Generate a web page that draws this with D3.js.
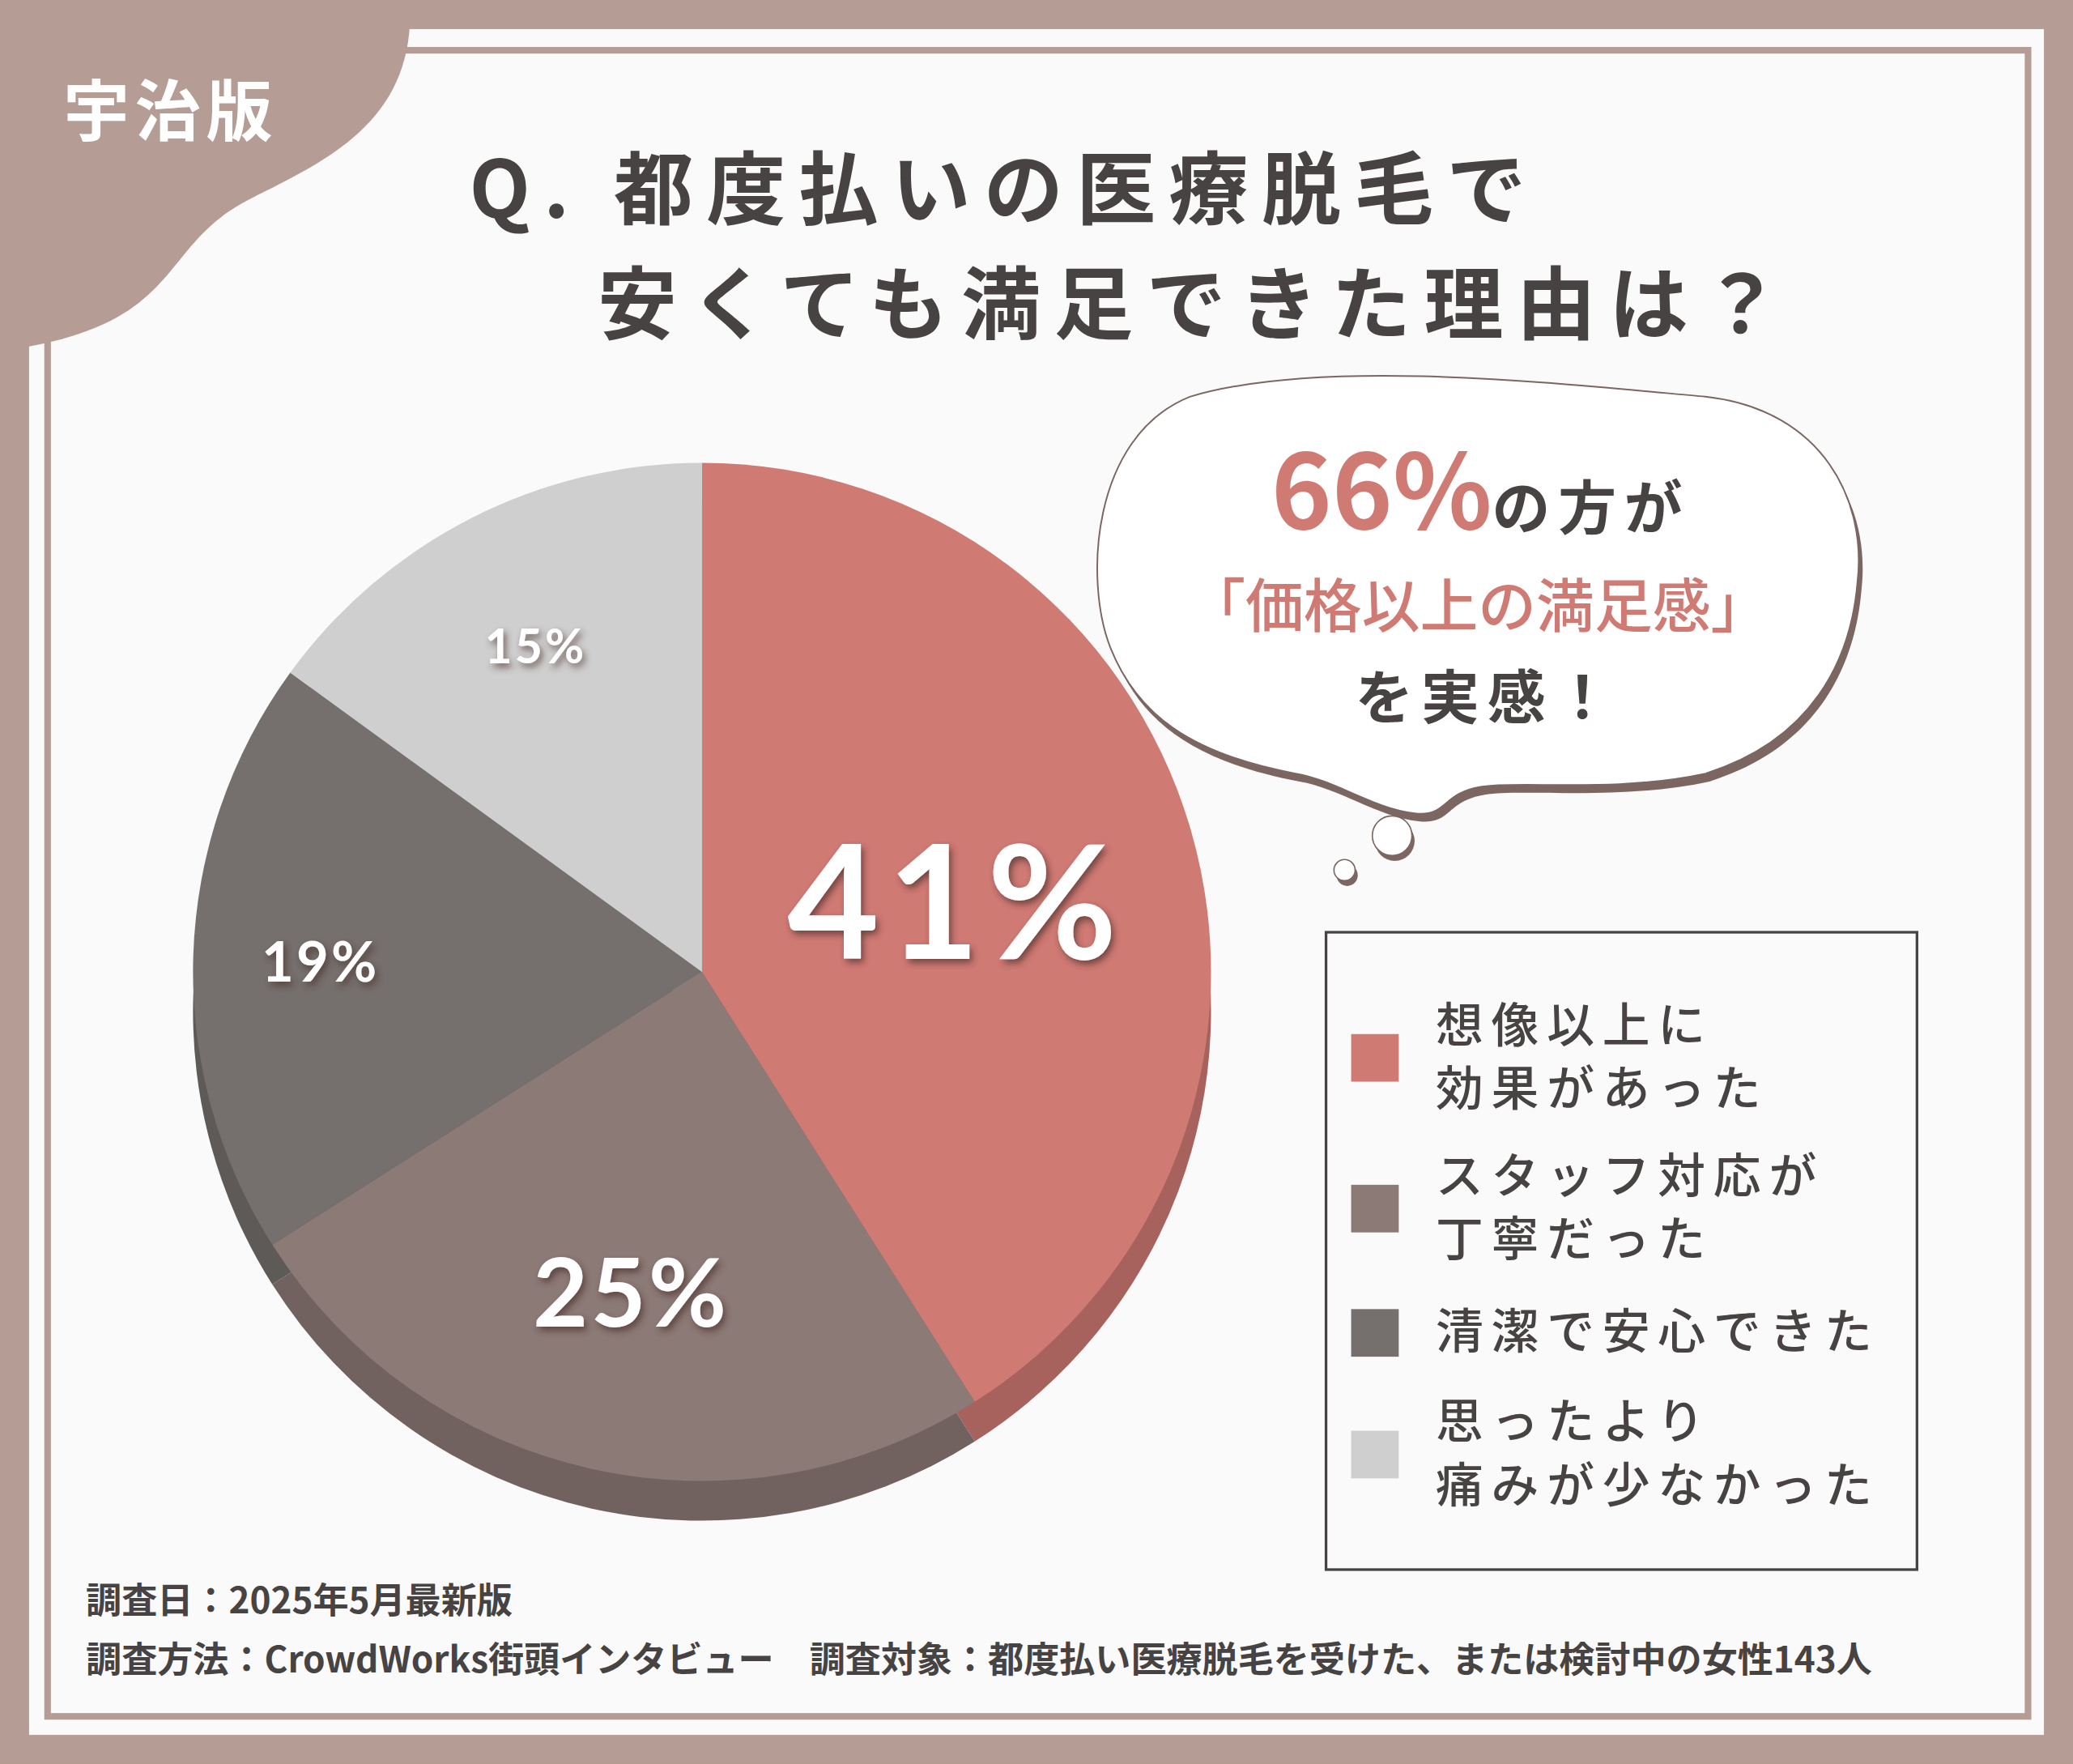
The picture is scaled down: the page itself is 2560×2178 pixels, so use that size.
<!DOCTYPE html>
<html><head><meta charset="utf-8">
<script src="https://cdn.jsdelivr.net/npm/d3@7"></script>
<style>body{margin:0;background:#b59c94}svg{display:block}</style>
</head><body>
<svg id="chart" width="2560" height="2178" viewBox="0 0 1568 1334"></svg>
<script>
// data
const categories = ["想像以上に\n効果があった", "スタッフ対応が\n丁寧だった", "清潔で安心できた", "思ったより\n痛みが少なかった"];
const values = [41, 25, 19, 15];
const colors = ["#d07a74", "#8c7a77", "#756f6d", "#cfcfcf"];
const labelSizes = [120, 72, 42, 36];
const titleLines = ["Q. 都度払いの医療脱毛で", "安くても満足できた理由は？"];
const footLines = ["調査日：2025年5月最新版", "調査方法：CrowdWorks街頭インタビュー　調査対象：都度払い医療脱毛を受けた、または検討中の女性143人"];

const FONT = "'Noto Sans CJK JP', 'Noto Sans', sans-serif";
const svg = d3.select("#chart");
const defs = svg.append("defs");

// text shadow filter
const f = defs.append("filter").attr("id", "tshadow").attr("x", "-20%").attr("y", "-20%").attr("width", "140%").attr("height", "140%");
f.append("feDropShadow").attr("dx", 2).attr("dy", 3).attr("stdDeviation", 2.5).attr("flood-color", "#4a2f2c").attr("flood-opacity", 0.7);

// panels
svg.append("rect").attr("x", 0).attr("y", 0).attr("width", 1568).attr("height", 1334).attr("fill", "#b59c94");
svg.append("rect").attr("x", 22).attr("y", 22).attr("width", 1524).attr("height", 1290).attr("fill", "#fafafa");
svg.append("rect").attr("x", 36).attr("y", 38).attr("width", 1498).attr("height", 1260)
    .attr("fill", "none").attr("stroke", "#b59c94").attr("stroke-width", 5);

// top-left tab
svg.append("path")
    .attr("d", "M0,0 H310 C315,90 250,120 190,150 C120,185 140,240 22,262 H0 Z")
    .attr("fill", "#b59c94");
svg.append("text").attr("x", 48).attr("y", 102).text("宇治版")
    .attr("font-family", FONT).attr("font-weight", 700).attr("font-size", 50)
    .attr("letter-spacing", 4).attr("fill", "#fff");

// title
const tx = [355, 452], ty = [165, 252];
titleLines.forEach((t, i) => {
    svg.append("text").attr("x", tx[i]).attr("y", ty[i]).text(t)
        .attr("font-family", FONT).attr("font-weight", 700).attr("font-size", 60)
        .attr("letter-spacing", 10).attr("fill", "#474342");
});

// pie
const cx = 531, cy = 735, R = 385;
const pie = d3.pie().sort(null).value(d => d)(values);
const arc = d3.arc().innerRadius(0).outerRadius(R);

const shadow = svg.append("g").attr("transform", `translate(${cx},${cy + 30})`);
shadow.selectAll("path").data(pie).enter().append("path")
    .attr("d", arc)
    .attr("fill", (d, i) => d3.color(colors[i]).darker(0.6));

const g = svg.append("g").attr("transform", `translate(${cx},${cy})`);
g.selectAll("path").data(pie).enter().append("path")
    .attr("d", arc)
    .attr("fill", (d, i) => colors[i]);

const labelR = [0.52, 0.64, 0.75, 0.72];
g.selectAll("text").data(pie).enter().append("text")
    .attr("transform", (d, i) => {
        const [x, y] = d3.arc().innerRadius(R * labelR[i]).outerRadius(R * labelR[i]).centroid(d);
        return `translate(${x},${y})`;
    })
    .attr("text-anchor", "middle").attr("dominant-baseline", "central")
    .attr("font-family", "'Lato', 'Noto Sans', sans-serif").attr("font-weight", 700)
    .attr("font-size", (d, i) => labelSizes[i])
    .attr("letter-spacing", (d, i) => i === 0 ? 6 : 2)
    .attr("fill", "#fff").attr("filter", "url(#tshadow)")
    .text(d => d.data + "%");

// thought bubble
const cloud = svg.append("g");
const cloudPath = "M900,300 C1000,270 1180,290 1290,300 C1380,310 1412,380 1405,440 C1400,500 1370,560 1290,585 C1220,600 1150,590 1120,595 C1090,600 1095,618 1070,615 C1040,612 1010,590 980,585 C900,570 860,540 840,490 C820,440 825,330 900,300 Z";
cloud.append("path").attr("d", cloudPath).attr("transform", "translate(3,6)").attr("fill", "#7b6662");
cloud.append("path").attr("d", cloudPath).attr("fill", "#fff").attr("stroke", "#7b6662").attr("stroke-width", 1.2);
[[1053, 632, 15], [1017, 658, 8]].forEach(([x, y, r]) => {
    cloud.append("circle").attr("cx", x + 2).attr("cy", y + 4).attr("r", r).attr("fill", "#7b6662");
    cloud.append("circle").attr("cx", x).attr("cy", y).attr("r", r).attr("fill", "#fff").attr("stroke", "#7b6662");
});
const l1 = cloud.append("text").attr("x", 1120).attr("y", 400).attr("text-anchor", "middle")
    .attr("font-family", FONT).attr("font-weight", 700);
l1.append("tspan").text("66%").attr("font-size", 78).attr("fill", "#d07a74");
l1.append("tspan").text("の方が").attr("font-size", 44).attr("fill", "#474342").attr("letter-spacing", 6);
cloud.append("text").attr("x", 1118).attr("y", 474).attr("text-anchor", "middle").text("「価格以上の満足感」")
    .attr("font-family", FONT).attr("font-weight", 500).attr("font-size", 44).attr("fill", "#d07a74");
cloud.append("text").attr("x", 1125).attr("y", 543).attr("text-anchor", "middle").text("を実感！")
    .attr("font-family", FONT).attr("font-weight", 700).attr("font-size", 44).attr("letter-spacing", 6).attr("fill", "#474342");

// legend
svg.append("rect").attr("x", 1003).attr("y", 705).attr("width", 447).attr("height", 482)
    .attr("fill", "#fafafa").attr("stroke", "#474342").attr("stroke-width", 2);
const legY = [800, 914, 1008, 1100];
categories.forEach((c, i) => {
    svg.append("rect").attr("x", 1022).attr("y", legY[i] - 18).attr("width", 36).attr("height", 36).attr("fill", colors[i]);
    const lines = c.split("\n");
    const t = svg.append("text").attr("font-family", FONT).attr("font-weight", 500)
        .attr("font-size", 36).attr("letter-spacing", 6).attr("fill", "#474342");
    lines.forEach((ln, k) => {
        t.append("tspan").attr("x", 1086)
            .attr("y", legY[i] + 12 + (k - (lines.length - 1) / 2) * 48).text(ln);
    });
});

// footer
footLines.forEach((t, i) => {
    svg.append("text").attr("x", 65).attr("y", 1220 + i * 45).text(t)
        .attr("font-family", FONT).attr("font-weight", 700).attr("font-size", 27).attr("fill", "#474342");
});
</script>
</body></html>
